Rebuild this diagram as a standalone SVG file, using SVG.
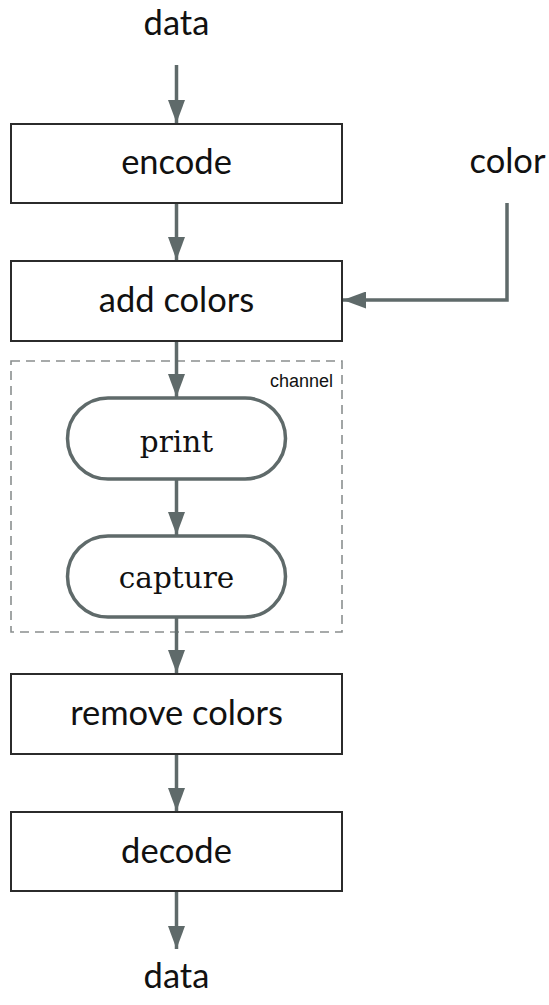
<svg xmlns="http://www.w3.org/2000/svg" width="549" height="1005" viewBox="0 0 549 1005">
  <style>
    .box { fill: #ffffff; stroke: #2b2b2b; stroke-width: 2; }
    .pill { fill: #ffffff; stroke: #5f6a6a; stroke-width: 3.5; }
    .group { fill: none; stroke: #8a8f8f; stroke-width: 1.6; stroke-dasharray: 9 6; }
    .lbl { font-family: Lato, "Liberation Sans", sans-serif; font-size: 34.5px; fill: #111; text-anchor: middle; }
    .serif { font-family: "DejaVu Serif", "Liberation Serif", serif; font-size: 29.5px; fill: #111; text-anchor: middle; }
    .small { font-family: "Liberation Sans", Arial, sans-serif; font-size: 18px; fill: #111; text-anchor: end; }
    .edge { fill: none; stroke: #5f6a6a; stroke-width: 3.5; }
  </style>
  <defs>
    <marker id="arr" viewBox="0 0 23 17" refX="23" refY="8.5" markerWidth="23" markerHeight="17" markerUnits="userSpaceOnUse" orient="auto">
      <path d="M0,0 L23,8.5 L0,17 Z" fill="#5f6a6a"/>
    </marker>
  </defs>

  <g id="channel">
    <rect class="group" x="11" y="361" width="331" height="271"/>
    <text class="small" x="333" y="387">channel</text>
  </g>

  <g id="connectors">
    <line class="edge" x1="176.5" y1="65" x2="176.5" y2="123" marker-end="url(#arr)"/>
    <line class="edge" x1="176.5" y1="204" x2="176.5" y2="260" marker-end="url(#arr)"/>
    <polyline class="edge" points="507,203 507,300 343,300" marker-end="url(#arr)"/>
    <line class="edge" x1="176.5" y1="342" x2="176.5" y2="397" marker-end="url(#arr)"/>
    <line class="edge" x1="176.5" y1="480" x2="176.5" y2="535" marker-end="url(#arr)"/>
    <line class="edge" x1="176.5" y1="618" x2="176.5" y2="673" marker-end="url(#arr)"/>
    <line class="edge" x1="176.5" y1="755" x2="176.5" y2="811" marker-end="url(#arr)"/>
    <line class="edge" x1="176.5" y1="892" x2="176.5" y2="949" marker-end="url(#arr)"/>
  </g>

  <g id="data-in"><text class="lbl" x="176.5" y="35">data</text></g>
  <g id="color"><text class="lbl" x="507.5" y="173">color</text></g>

  <g id="encode">
    <rect class="box" x="11" y="124" width="331" height="79"/>
    <text class="lbl" x="176.5" y="174">encode</text>
  </g>
  <g id="add-colors">
    <rect class="box" x="11" y="261" width="331" height="80"/>
    <text class="lbl" x="176.5" y="312">add colors</text>
  </g>
  <g id="print">
    <rect class="pill" x="67.5" y="398" width="218" height="81" rx="40.5" ry="40.5"/>
    <text class="serif" x="176.5" y="452">print</text>
  </g>
  <g id="capture">
    <rect class="pill" x="67.5" y="536" width="218" height="81" rx="40.5" ry="40.5"/>
    <text class="serif" x="176.5" y="588">capture</text>
  </g>
  <g id="remove-colors">
    <rect class="box" x="11" y="674" width="331" height="80"/>
    <text class="lbl" x="176.5" y="725">remove colors</text>
  </g>
  <g id="decode">
    <rect class="box" x="11" y="812" width="331" height="79"/>
    <text class="lbl" x="176.5" y="863">decode</text>
  </g>
  <g id="data-out"><text class="lbl" x="176.5" y="988">data</text></g>
</svg>
